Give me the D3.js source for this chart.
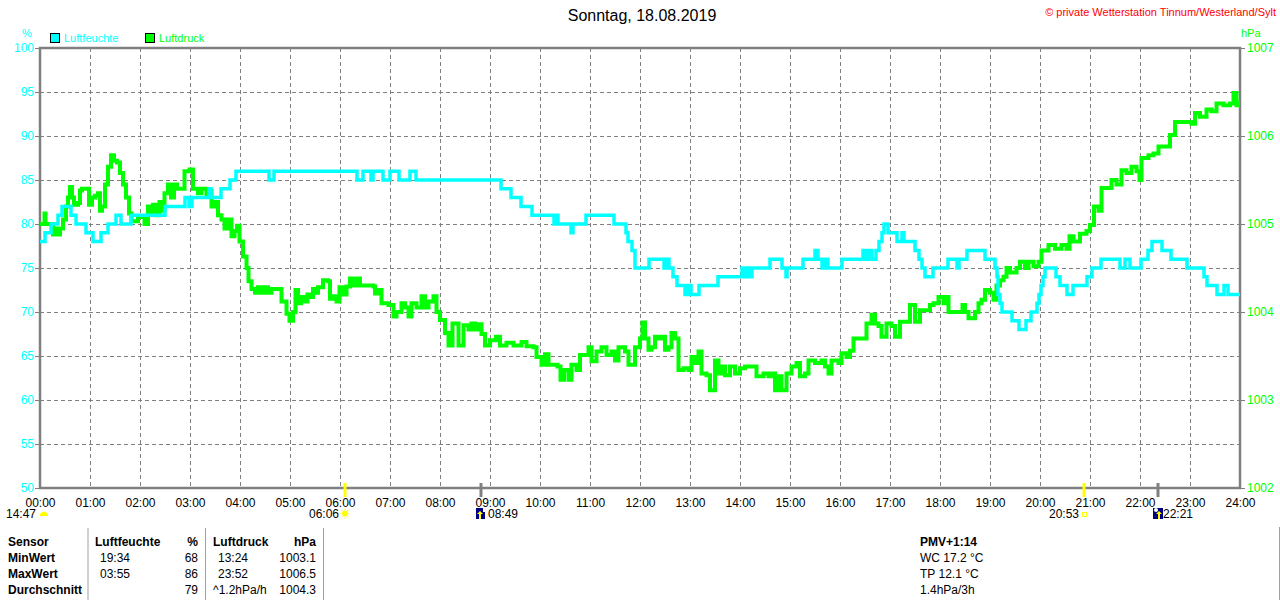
<!DOCTYPE html>
<html><head><meta charset="utf-8">
<script src="https://cdn.jsdelivr.net/npm/d3@7"></script>
<style>
body{margin:0;background:#fff;}
svg{display:block;font-family:"Liberation Sans",Arial,sans-serif;}
</style>
</head><body>
<svg id="chart" width="1280" height="600"></svg>
<script>
// ---------- data ----------
const title = "Sonntag, 18.08.2019";
const copyright = "© private Wetterstation Tinnum/Westerland/Sylt";
const seriesNames = ["Luftfeuchte", "Luftdruck"];
const seriesUnits = ["%", "hPa"];
const hourLabels = ["00:00","01:00","02:00","03:00","04:00","05:00","06:00","07:00","08:00","09:00","10:00","11:00","12:00","13:00","14:00","15:00","16:00","17:00","18:00","19:00","20:00","21:00","22:00","23:00","24:00"];
const humidityTicks = [50,55,60,65,70,75,80,85,90,95,100];
const pressureTicks = [1002,1003,1004,1005,1006,1007];

// [hour, % relative humidity] (step changes)
const humidityPoints = [[0,78],[0.10,79],[0.22,80],[0.36,81],[0.44,82],[0.62,81],[0.72,80],[0.92,79],[1.06,78],[1.22,79],[1.36,80],[1.52,81],[1.62,80],[1.82,81],[2.50,82],[2.90,83],[2.98,82],[3.04,83],[3.38,84],[3.42,83],[3.62,84],[3.80,85],[3.92,86],[4.58,85],[4.68,86],[6.34,85],[6.46,86],[6.62,85],[6.66,86],[6.86,85],[7.00,86],[7.18,85],[7.40,86],[7.52,85],[9.22,84],[9.42,83],[9.62,82],[9.84,81],[10.28,80],[10.32,81],[10.36,80],[10.62,79],[10.66,80],[10.92,81],[11.48,80],[11.72,79],[11.76,78],[11.84,77],[11.90,75],[12.18,76],[12.48,75],[12.54,76],[12.58,75],[12.66,74],[12.74,73],[12.90,72],[12.96,73],[13.02,72],[13.18,73],[13.56,74],[14.04,75],[14.08,74],[14.14,75],[14.18,74],[14.24,75],[14.60,76],[14.84,75],[14.92,74],[14.94,75],[15.26,76],[15.50,77],[15.56,76],[15.64,75],[15.70,76],[15.76,75],[16.04,76],[16.46,77],[16.52,76],[16.58,77],[16.64,76],[16.72,77],[16.78,78],[16.84,79],[16.88,80],[16.96,79],[17.14,78],[17.24,79],[17.28,78],[17.50,77],[17.58,76],[17.64,75],[17.70,74],[17.86,75],[18.16,76],[18.34,75],[18.38,76],[18.54,77],[18.90,76],[19.10,75],[19.14,74],[19.16,72],[19.20,71],[19.24,70],[19.44,69],[19.58,68],[19.72,69],[19.82,70],[19.94,71],[19.98,72],[20.02,73],[20.06,74],[20.10,75],[20.32,74],[20.40,73],[20.54,72],[20.66,73],[20.94,74],[21.04,75],[21.22,76],[21.60,75],[21.70,76],[21.80,75],[22.02,76],[22.16,77],[22.24,78],[22.44,77],[22.62,76],[22.94,75],[23.28,74],[23.34,73],[23.54,72],[23.68,73],[23.76,72],[24.00,72]];

// [hour, hPa air pressure]
const pressurePoints = [[0.00,1005.00],[0.07,1005.00],[0.09,1005.12],[0.11,1005.00],[0.22,1005.00],[0.26,1004.88],[0.30,1004.95],[0.34,1004.88],[0.40,1004.95],[0.46,1005.05],[0.52,1005.20],[0.56,1005.30],[0.60,1005.42],[0.64,1005.30],[0.68,1005.22],[0.76,1005.24],[0.80,1005.38],[0.84,1005.40],[0.94,1005.40],[0.98,1005.22],[1.04,1005.30],[1.10,1005.32],[1.16,1005.35],[1.20,1005.15],[1.24,1005.20],[1.30,1005.45],[1.36,1005.65],[1.42,1005.78],[1.48,1005.72],[1.54,1005.70],[1.60,1005.58],[1.66,1005.45],[1.72,1005.30],[1.78,1005.12],[1.83,1005.03],[1.96,1005.08],[2.09,1005.00],[2.16,1005.20],[2.22,1005.12],[2.26,1005.22],[2.33,1005.10],[2.39,1005.25],[2.44,1005.15],[2.49,1005.35],[2.56,1005.45],[2.62,1005.30],[2.68,1005.45],[2.74,1005.40],[2.83,1005.40],[2.89,1005.60],[2.99,1005.62],[3.06,1005.40],[3.16,1005.35],[3.23,1005.40],[3.33,1005.33],[3.39,1005.38],[3.43,1005.20],[3.49,1005.25],[3.56,1005.10],[3.63,1005.05],[3.69,1004.95],[3.76,1005.05],[3.83,1004.86],[3.89,1004.92],[3.94,1004.98],[3.99,1004.80],[4.06,1004.63],[4.13,1004.50],[4.17,1004.35],[4.23,1004.26],[4.30,1004.22],[4.36,1004.28],[4.42,1004.22],[4.49,1004.28],[4.56,1004.22],[4.63,1004.26],[4.76,1004.26],[4.83,1004.12],[4.93,1003.98],[4.99,1003.90],[5.06,1004.00],[5.11,1004.25],[5.16,1004.10],[5.22,1004.17],[5.29,1004.12],[5.35,1004.20],[5.39,1004.17],[5.46,1004.26],[5.52,1004.22],[5.56,1004.28],[5.66,1004.36],[5.76,1004.35],[5.80,1004.15],[5.86,1004.18],[5.93,1004.12],[5.99,1004.28],
[6.07,1004.20],[6.13,1004.29],[6.20,1004.38],[6.27,1004.30],[6.33,1004.38],[6.40,1004.30],[6.67,1004.29],[6.70,1004.21],[6.77,1004.25],[6.83,1004.10],[6.97,1004.08],[7.07,1003.95],[7.13,1004.00],[7.23,1004.10],[7.30,1004.05],[7.37,1003.95],[7.43,1004.10],[7.53,1004.05],[7.63,1004.18],[7.70,1004.05],[7.77,1004.12],[7.87,1004.18],[7.93,1004.00],[8.00,1003.91],[8.10,1003.76],[8.17,1003.62],[8.25,1003.87],[8.37,1003.62],[8.47,1003.85],[8.57,1003.80],[8.63,1003.87],[8.70,1003.80],[8.77,1003.86],[8.83,1003.75],[8.90,1003.62],[9.00,1003.68],[9.12,1003.72],[9.20,1003.62],[9.33,1003.65],[9.47,1003.62],[9.63,1003.66],[9.73,1003.61],[9.87,1003.60],[9.93,1003.49],[10.03,1003.40],[10.10,1003.52],[10.17,1003.40],[10.27,1003.40],[10.35,1003.38],[10.41,1003.23],[10.48,1003.34],[10.57,1003.23],[10.63,1003.40],[10.73,1003.34],[10.80,1003.51],[10.97,1003.60],[11.03,1003.44],[11.13,1003.55],[11.23,1003.60],[11.33,1003.51],[11.43,1003.55],[11.50,1003.45],[11.57,1003.60],[11.70,1003.55],[11.77,1003.40],[11.85,1003.40],[11.90,1003.60],[12.00,1003.70],[12.05,1003.88],[12.10,1003.70],
[12.17,1003.57],[12.23,1003.60],[12.30,1003.72],[12.37,1003.70],[12.43,1003.72],[12.50,1003.57],[12.57,1003.60],[12.63,1003.76],[12.70,1003.70],[12.77,1003.34],[12.87,1003.36],[12.97,1003.34],[13.03,1003.49],[13.10,1003.42],[13.17,1003.55],[13.23,1003.30],[13.33,1003.28],[13.40,1003.11],[13.50,1003.45],[13.57,1003.30],[13.63,1003.38],[13.70,1003.28],[13.80,1003.38],[13.90,1003.30],[14.00,1003.36],[14.10,1003.38],[14.27,1003.38],[14.33,1003.27],[14.47,1003.30],[14.57,1003.27],[14.63,1003.30],[14.70,1003.11],[14.77,1003.27],[14.83,1003.11],[14.93,1003.30],[15.03,1003.38],[15.13,1003.42],[15.20,1003.27],[15.30,1003.30],[15.37,1003.45],[15.50,1003.42],[15.63,1003.45],[15.70,1003.38],[15.77,1003.30],[15.83,1003.45],[15.97,1003.42],[16.03,1003.53],[16.13,1003.49],[16.20,1003.56],[16.27,1003.70],[16.47,1003.70],[16.53,1003.87],[16.63,1003.97],[16.70,1003.87],[16.77,1003.84],[16.83,1003.72],[16.93,1003.87],[17.03,1003.84],[17.10,1003.72],[17.20,1003.89],[17.33,1003.89],[17.40,1004.08],[17.50,1003.89],[17.60,1004.02],[17.73,1004.02],[17.80,1004.08],[17.87,1004.10],[17.97,1004.17],
[18.07,1004.10],[18.13,1004.17],[18.17,1004.00],[18.40,1004.00],[18.45,1004.08],[18.50,1004.00],[18.57,1003.93],[18.67,1003.93],[18.70,1004.00],[18.77,1004.10],[18.83,1004.14],[18.90,1004.25],[19.00,1004.22],[19.07,1004.14],[19.13,1004.30],[19.20,1004.36],[19.27,1004.40],[19.33,1004.50],[19.40,1004.45],[19.53,1004.50],[19.60,1004.57],[19.70,1004.50],[19.77,1004.57],[19.87,1004.52],[19.97,1004.57],[20.03,1004.70],[20.17,1004.76],[20.30,1004.72],[20.43,1004.76],[20.53,1004.72],[20.59,1004.86],[20.67,1004.80],[20.80,1004.89],[20.93,1004.92],[21.00,1004.99],[21.08,1005.20],[21.17,1005.15],[21.23,1005.41],[21.37,1005.41],[21.43,1005.50],[21.53,1005.45],[21.63,1005.61],[21.73,1005.58],[21.83,1005.65],[21.93,1005.60],[21.99,1005.50],[22.03,1005.75],[22.17,1005.78],[22.27,1005.80],[22.37,1005.88],[22.50,1005.88],[22.60,1006.01],[22.70,1006.16],[22.93,1006.16],[23.03,1006.14],[23.10,1006.26],[23.20,1006.22],[23.33,1006.30],[23.43,1006.28],[23.53,1006.37],[23.67,1006.35],[23.80,1006.37],[23.87,1006.49],[23.93,1006.35],[24.00,1006.40]];

// sun / moon events
const astroEvents = [
  {hour: null, label: "14:47", icon: "moonset"},
  {hour: 6.1, label: "06:06", icon: "sunrise"},
  {hour: 8.817, label: "08:49", icon: "moonup"},
  {hour: 20.883, label: "20:53", icon: "sunset"},
  {hour: 22.35, label: "22:21", icon: "moonrise"}
];

const tableHeader = ["Sensor", "Luftfeuchte", "%", "Luftdruck", "hPa"];
const tableRowNames = ["MinWert", "MaxWert", "Durchschnitt"];
const humidityTimes = ["19:34", "03:55", ""];
const humidityStats = ["68", "86", "79"];
const pressureTimes = ["13:24", "23:52", "^1.2hPa/h"];
const pressureStats = ["1003.1", "1006.5", "1004.3"];
const extraInfo = ["PMV+1:14", "WC 17.2 °C", "TP 12.1 °C", "1.4hPa/3h"];

// ---------- chart ----------
const svg = d3.select("#chart");
const L = 40, R = 1240, T = 48, B = 488;
const x = d3.scaleLinear().domain([0, 24]).range([L, R]);
const yH = d3.scaleLinear().domain([50, 100]).range([B, T]);
const yP = d3.scaleLinear().domain([1002, 1007]).range([B, T]);
const gray = "#808080", cyan = "#00ffff", green = "#00ff00";

svg.append("text").attr("x", 642).attr("y", 21).attr("text-anchor", "middle")
  .attr("font-size", 16).attr("fill", "#000").text(title);
svg.append("text").attr("x", 1276).attr("y", 16).attr("text-anchor", "end")
  .attr("font-size", 11).attr("fill", "#ff0000").text(copyright);

svg.append("text").attr("x", 27).attr("y", 37).attr("text-anchor", "middle")
  .attr("font-size", 11).attr("fill", cyan).text(seriesUnits[0]);
svg.append("text").attr("x", 1241).attr("y", 37)
  .attr("font-size", 11).attr("fill", green).text(seriesUnits[1]);

const legend = [{name: seriesNames[0], color: cyan, x: 50}, {name: seriesNames[1], color: green, x: 145}];
legend.forEach(d => {
  svg.append("rect").attr("x", d.x + 0.5).attr("y", 33.5).attr("width", 9).attr("height", 9)
    .attr("fill", d.color).attr("stroke", "#000").attr("stroke-width", 1);
  svg.append("text").attr("x", d.x + 14).attr("y", 42).attr("font-size", 11)
    .attr("fill", d.color).text(d.name);
});

const grid = svg.append("g").attr("stroke", gray).attr("stroke-width", 1).attr("stroke-dasharray", "4,3");
grid.selectAll("line.v").data(d3.range(1, 24)).join("line")
  .attr("x1", d => Math.round(x(d)) + 0.5).attr("x2", d => Math.round(x(d)) + 0.5)
  .attr("y1", T).attr("y2", B);
grid.selectAll("line.h").data(humidityTicks.slice(1, -1)).join("line")
  .attr("y1", d => Math.round(yH(d)) + 0.5).attr("y2", d => Math.round(yH(d)) + 0.5)
  .attr("x1", L).attr("x2", R);

const axL = svg.append("g").attr("transform", `translate(${L},0)`)
  .call(d3.axisLeft(yH).tickValues(humidityTicks).tickSize(5).tickPadding(1).tickFormat(d3.format("d")));
const axR = svg.append("g").attr("transform", `translate(${R},0)`)
  .call(d3.axisRight(yP).tickValues(pressureTicks).tickSize(5).tickPadding(2).tickFormat(d3.format("d")));
const axB = svg.append("g").attr("transform", `translate(0,${B})`)
  .call(d3.axisBottom(x).tickValues(d3.range(0, 25)).tickSize(0).tickPadding(10).tickFormat(i => hourLabels[i]));
[axL, axR, axB].forEach(g => {
  g.select(".domain").remove();
  g.selectAll("line").attr("stroke", gray);
  g.selectAll("text").attr("font-size", 12).attr("font-family", '"Liberation Sans",Arial,sans-serif');
});
axL.selectAll("text").attr("fill", cyan);
axR.selectAll("text").attr("fill", green);
axB.selectAll("text").attr("fill", "#000");

svg.append("rect").attr("x", L).attr("y", T).attr("width", R - L).attr("height", B - T)
  .attr("fill", "none").attr("stroke", gray).attr("stroke-width", 2.5);

svg.append("clipPath").attr("id", "plotclip").append("rect")
  .attr("x", L).attr("y", T).attr("width", R - L).attr("height", B - T);
const lineP = d3.line().curve(d3.curveStepAfter).x(d => x(d[0])).y(d => yP(d[1]));
const lineH = d3.line().curve(d3.curveStepAfter).x(d => x(d[0])).y(d => yH(d[1]));
svg.append("path").datum(pressurePoints).attr("d", lineP).attr("fill", "none")
  .attr("stroke", green).attr("stroke-width", 4).attr("clip-path", "url(#plotclip)");
svg.append("path").datum(humidityPoints).attr("d", lineH).attr("fill", "none")
  .attr("stroke", cyan).attr("stroke-width", 3.5).attr("clip-path", "url(#plotclip)");

const ev = svg.append("g").attr("font-size", 12).attr("fill", "#000");
astroEvents.forEach(e => {
  if (e.hour !== null) {
    const tx = Math.round(x(e.hour));
    const col = (e.icon === "sunrise" || e.icon === "sunset") ? "#ffff00" : gray;
    ev.append("line").attr("x1", tx).attr("x2", tx).attr("y1", 483).attr("y2", 497)
      .attr("stroke", col).attr("stroke-width", 3);
  }
});
ev.append("text").attr("x", 36).attr("y", 518).attr("text-anchor", "end").text(astroEvents[0].label);
ev.append("path").attr("d", "M40,516 L40,514 Q44,509 48,514 L48,516 Z").attr("fill", "#ffff00");
{
  const cx = Math.round(x(astroEvents[1].hour));
  ev.append("text").attr("x", cx - 6).attr("y", 518).attr("text-anchor", "end").text(astroEvents[1].label);
  const g = ev.append("g").attr("transform", `translate(${cx},513.5)`);
  g.append("circle").attr("r", 3).attr("fill", "#ffff00");
  d3.range(8).forEach(k => {
    const a = k * Math.PI / 4;
    g.append("line").attr("x1", Math.cos(a) * 3.5).attr("y1", Math.sin(a) * 3.5)
      .attr("x2", Math.cos(a) * 5).attr("y2", Math.sin(a) * 5)
      .attr("stroke", "#ffee66").attr("stroke-width", 1);
  });
}
{
  const cx = Math.round(x(astroEvents[2].hour));
  ev.append("rect").attr("x", cx - 5).attr("y", 508).attr("width", 9).attr("height", 11).attr("fill", "#000080");
  ev.append("path").attr("d", `M${cx - 1},511 L${cx + 2},514 L${cx},514 L${cx},519 L${cx - 2},519 L${cx - 2},514 L${cx - 4},514 Z`).attr("fill", "#ffff00");
  ev.append("rect").attr("x", cx + 2).attr("y", 508).attr("width", 2).attr("height", 4).attr("fill", "#ffffff");
  ev.append("text").attr("x", cx + 7).attr("y", 518).text(astroEvents[2].label);
}
{
  const cx = Math.round(x(astroEvents[3].hour));
  ev.append("text").attr("x", cx - 5).attr("y", 518).attr("text-anchor", "end").text(astroEvents[3].label);
  ev.append("rect").attr("x", cx - 1.5).attr("y", 512.5).attr("width", 4).attr("height", 4)
    .attr("fill", "none").attr("stroke", "#ffff00").attr("stroke-width", 1);
}
{
  const cx = Math.round(x(astroEvents[4].hour));
  ev.append("rect").attr("x", cx - 5).attr("y", 508).attr("width", 10).attr("height", 11).attr("fill", "#000080");
  ev.append("circle").attr("cx", cx - 2).attr("cy", 510).attr("r", 2).attr("fill", "#ffffff");
  ev.append("path").attr("d", `M${cx + 1},511 L${cx + 4},514 L${cx + 2},514 L${cx + 2},519 L${cx},519 L${cx},514 L${cx - 2},514 Z`).attr("fill", "#ffff00");
  ev.append("text").attr("x", cx + 5).attr("y", 518).text(astroEvents[4].label);
}

const tb = svg.append("g").attr("font-size", 12).attr("fill", "#000");
const rowY = [546, 562, 578, 594];
[88, 205.5, 323.5].forEach(sx => tb.append("line").attr("x1", sx).attr("x2", sx)
  .attr("y1", 528).attr("y2", 600).attr("stroke", "#a0a0a0").attr("stroke-width", 1));
tb.append("line").attr("x1", 1279.5).attr("x2", 1279.5).attr("y1", 527).attr("y2", 600)
  .attr("stroke", "#a0a0a0").attr("stroke-width", 1);
const bold = (s, xx, yy, anchor) => tb.append("text").attr("x", xx).attr("y", yy)
  .attr("font-weight", "bold").attr("text-anchor", anchor || "start").text(s);
const norm = (s, xx, yy, anchor) => tb.append("text").attr("x", xx).attr("y", yy)
  .attr("text-anchor", anchor || "start").text(s);
bold(tableHeader[0], 8, rowY[0]);
bold(tableHeader[1], 95, rowY[0]);
bold(tableHeader[2], 198, rowY[0], "end");
bold(tableHeader[3], 213, rowY[0]);
bold(tableHeader[4], 316, rowY[0], "end");
tableRowNames.forEach((n, i) => {
  bold(n, 8, rowY[i + 1]);
  norm(humidityTimes[i], 100, rowY[i + 1]);
  norm(humidityStats[i], 198, rowY[i + 1], "end");
  norm(pressureTimes[i], i === 2 ? 213 : 218, rowY[i + 1]);
  norm(pressureStats[i], 316, rowY[i + 1], "end");
});
extraInfo.forEach((s, i) => (i === 0 ? bold : norm)(s, 920, rowY[i]));
</script>
</body></html>
